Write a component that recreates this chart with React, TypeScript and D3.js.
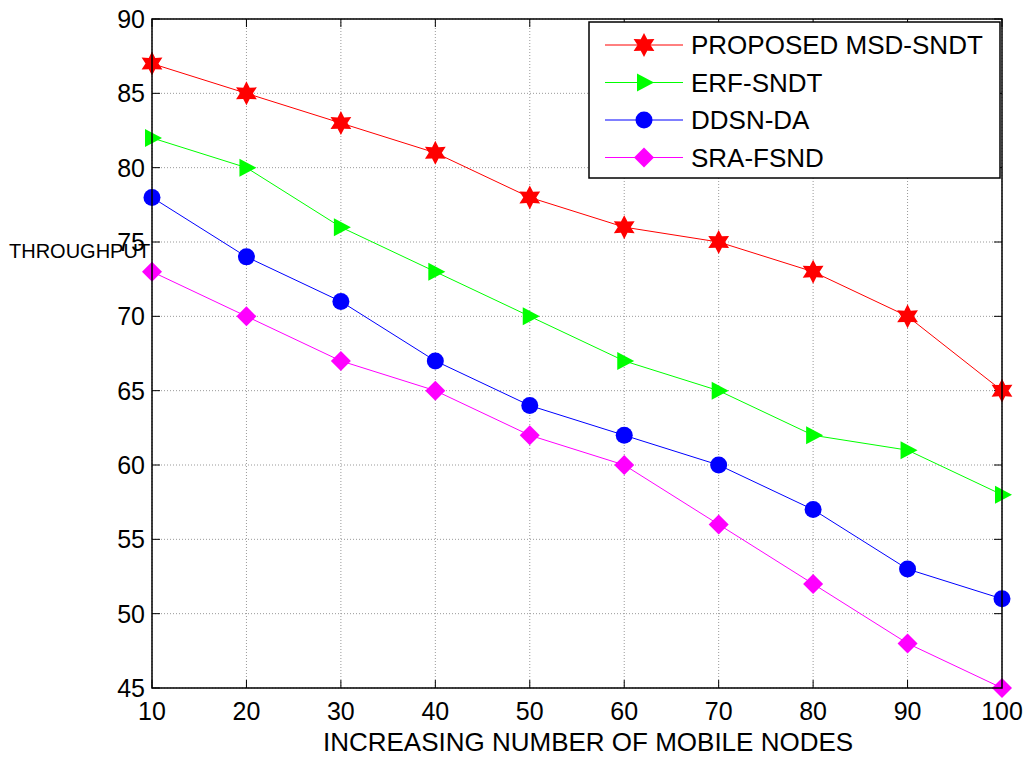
import * as d3 from "d3"
import React, { useEffect, useRef } from "react"

// chart data
const nodes = [10, 20, 30, 40, 50, 60, 70, 80, 90, 100]
const msdSndt = [87, 85, 83, 81, 78, 76, 75, 73, 70, 65]
const erfSndt = [82, 80, 76, 73, 70, 67, 65, 62, 61, 58]
const ddsnDa = [78, 74, 71, 67, 64, 62, 60, 57, 53, 51]
const sraFsnd = [73, 70, 67, 65, 62, 60, 56, 52, 48, 45]
const seriesNames = ["PROPOSED MSD-SNDT", "ERF-SNDT", "DDSN-DA", "SRA-FSND"]
const xTicks = [10, 20, 30, 40, 50, 60, 70, 80, 90, 100]
const yTicks = [45, 50, 55, 60, 65, 70, 75, 80, 85, 90]

const colours = ["#ff0000", "#00ff00", "#0000ff", "#ff00ff"]
const markers = ["star", "triangle", "circle", "diamond"]

const left = 152, top = 19, right = 1002, bottom = 688
const font = "Arial, 'Liberation Sans', Helvetica, sans-serif"

// draws one marker shape centred on 0,0
function drawMarker(g: any, kind: string, colour: string) {
  if (kind === "star") {
    // hexagram
    const pts: string[] = []
    for (let i = 0; i < 12; i++) {
      const r = i % 2 === 0 ? 12 : 6.5
      const a = (Math.PI / 6) * i - Math.PI / 2
      pts.push((r * Math.cos(a)).toFixed(2) + "," + (r * Math.sin(a)).toFixed(2))
    }
    g.append("polygon").attr("points", pts.join(" ")).attr("fill", colour)
  } else if (kind === "triangle") {
    g.append("polygon").attr("points", "-7,-9 10,0 -7,9").attr("fill", colour)
  } else if (kind === "circle") {
    g.append("circle").attr("r", 8.5).attr("fill", colour)
  } else {
    g.append("polygon").attr("points", "0,-10 10,0 0,10 -10,0").attr("fill", colour)
  }
}

export default function App() {
  const ref = useRef<SVGSVGElement>(null)

  useEffect(() => {
    const svg = d3.select(ref.current)
    svg.selectAll("*").remove()

    const xScale = d3.scaleLinear().domain([10, 100]).range([left, right])
    const yScale = d3.scaleLinear().domain([45, 90]).range([bottom, top])

    svg.append("rect")
      .attr("x", 0).attr("y", 0).attr("width", 1027).attr("height", 757)
      .attr("fill", "white")

    // grid
    const grid = svg.append("g")
      .attr("stroke", "#999").attr("stroke-width", 1)
      .attr("stroke-dasharray", "1,2")
    xTicks.forEach(t => {
      grid.append("line")
        .attr("x1", xScale(t)).attr("x2", xScale(t))
        .attr("y1", top).attr("y2", bottom)
    })
    yTicks.forEach(t => {
      grid.append("line")
        .attr("x1", left).attr("x2", right)
        .attr("y1", yScale(t)).attr("y2", yScale(t))
    })

    // ticks on all four sides, pointing inwards
    const ticks = svg.append("g").attr("stroke", "black").attr("stroke-width", 1)
    xTicks.forEach(t => {
      ticks.append("line").attr("x1", xScale(t)).attr("x2", xScale(t)).attr("y1", bottom).attr("y2", bottom - 8)
      ticks.append("line").attr("x1", xScale(t)).attr("x2", xScale(t)).attr("y1", top).attr("y2", top + 8)
    })
    yTicks.forEach(t => {
      ticks.append("line").attr("x1", left).attr("x2", left + 8).attr("y1", yScale(t)).attr("y2", yScale(t))
      ticks.append("line").attr("x1", right).attr("x2", right - 8).attr("y1", yScale(t)).attr("y2", yScale(t))
    })

    // tick labels
    svg.append("g").selectAll("text")
      .data(xTicks).enter().append("text")
      .attr("x", d => xScale(d)).attr("y", bottom + 32)
      .attr("text-anchor", "middle")
      .attr("font-family", font).attr("font-size", 25)
      .text(d => d)
    svg.append("g").selectAll("text")
      .data(yTicks).enter().append("text")
      .attr("x", left - 7).attr("y", d => yScale(d) + 9)
      .attr("text-anchor", "end")
      .attr("font-family", font).attr("font-size", 25)
      .text(d => d)

    // axis titles
    svg.append("text")
      .attr("x", (left + right) / 2 + 11).attr("y", 751)
      .attr("text-anchor", "middle")
      .attr("font-family", font).attr("font-size", 26)
      .text("INCREASING NUMBER OF MOBILE NODES")
    svg.append("text")
      .attr("x", 9).attr("y", 258)
      .attr("font-family", font).attr("font-size", 20)
      .text("THROUGHPUT")

    // series
    const allSeries = [msdSndt, erfSndt, ddsnDa, sraFsnd]
    const line = d3.line<number>()
      .x((d, i) => xScale(nodes[i]))
      .y(d => yScale(d))
    allSeries.forEach((vals, s) => {
      svg.append("path")
        .attr("d", line(vals))
        .attr("fill", "none")
        .attr("stroke", colours[s])
        .attr("stroke-width", 1)
      vals.forEach((v, i) => {
        const g = svg.append("g")
          .attr("transform", "translate(" + xScale(nodes[i]) + "," + yScale(v) + ")")
        drawMarker(g, markers[s], colours[s])
      })
    })

    // axes box
    svg.append("rect")
      .attr("x", left).attr("y", top)
      .attr("width", right - left).attr("height", bottom - top)
      .attr("fill", "none").attr("stroke", "black").attr("stroke-width", 1.5)

    // legend
    const lx = 589, ly = 22, lw = 411, lh = 156
    const legend = svg.append("g")
    legend.append("rect")
      .attr("x", lx).attr("y", ly).attr("width", lw).attr("height", lh)
      .attr("fill", "white").attr("stroke", "black").attr("stroke-width", 1.5)
    seriesNames.forEach((name, s) => {
      const yy = ly + 23 + s * 37.5
      legend.append("line")
        .attr("x1", lx + 16).attr("x2", lx + 94)
        .attr("y1", yy).attr("y2", yy)
        .attr("stroke", colours[s]).attr("stroke-width", 1)
      const g = legend.append("g").attr("transform", "translate(" + (lx + 55) + "," + yy + ")")
      drawMarker(g, markers[s], colours[s])
      legend.append("text")
        .attr("x", lx + 102).attr("y", yy + 9)
        .attr("font-family", font).attr("font-size", 26)
        .text(name)
    })
  }, [])

  return (
    <svg ref={ref} width={1027} height={757}
      style={{ position: "absolute", left: 0, top: 0 }} />
  )
}
